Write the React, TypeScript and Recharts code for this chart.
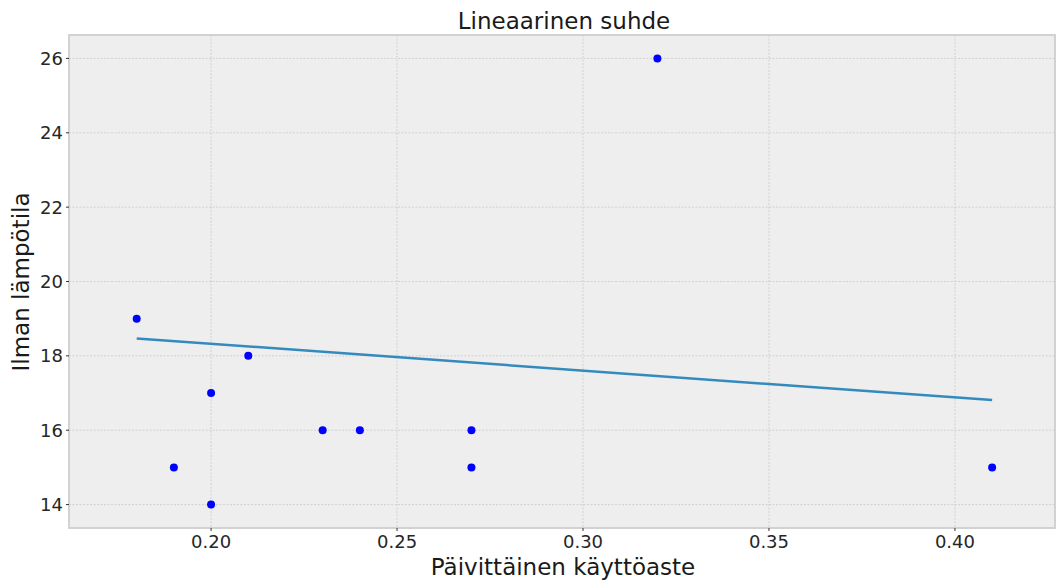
import React from 'react';
import { ScatterChart, Scatter, XAxis, YAxis, CartesianGrid, ReferenceArea, Label } from 'recharts';

// observed points
const usageRate = [0.18, 0.19, 0.2, 0.2, 0.21, 0.23, 0.24, 0.27, 0.27, 0.32, 0.41];
const airTemp = [19, 15, 17, 14, 18, 16, 16, 16, 15, 26, 15];

// fitted line end points
const fitX = [0.18, 0.41];
const fitY = [18.47, 16.81];

const xTicks = [0.2, 0.25, 0.3, 0.35, 0.4];
const yTicks = [14, 16, 18, 20, 22, 24, 26];

const X_DOMAIN: [number, number] = [0.1618, 0.4269];
const Y_DOMAIN: [number, number] = [13.37, 26.63];

const FONT = '"DejaVu Sans", sans-serif';

const points = usageRate.map((x, i) => ({ x, y: airTemp[i] }));
const fitLine = fitX.map((x, i) => ({ x, y: fitY[i] }));

const Dot = (p: any) => <circle cx={p.cx} cy={p.cy} r={4} fill="#0000ff" />;

const App: React.FC = () => {
  return (
    <div style={{ position: 'absolute', left: 0, top: 0, fontFamily: FONT }}>
      <ScatterChart width={1057} height={583} margin={{ top: 35, right: 2, bottom: 0, left: 0 }}>
        <CartesianGrid fill="#eeeeee" stroke="#c9c9c9" strokeWidth={0.8} strokeDasharray="2 1.5" />
        <XAxis
          type="number"
          dataKey="x"
          domain={X_DOMAIN}
          ticks={xTicks}
          allowDataOverflow
          height={55}
          axisLine={false}
          tickLine={{ stroke: '#333' }}
          tickSize={3}
          tickMargin={4}
          tickFormatter={(v: number) => v.toFixed(2)}
          tick={{ fill: '#262626', fontSize: 18, fontFamily: FONT }}
        >
          <Label
            content={() => (
              <text x={563} y={575} textAnchor="middle" fontSize={23} fill="#1a1a1a" fontFamily={FONT}>
                Päivittäinen käyttöaste
              </text>
            )}
          />
        </XAxis>
        <YAxis
          type="number"
          dataKey="y"
          domain={Y_DOMAIN}
          ticks={yTicks}
          allowDataOverflow
          width={69}
          axisLine={false}
          tickLine={{ stroke: '#333' }}
          tickSize={3}
          tickMargin={3}
          tick={{ fill: '#262626', fontSize: 18, fontFamily: FONT }}
        >
          <Label
            content={() => (
              <text
                x={29}
                y={282}
                textAnchor="middle"
                fontSize={23}
                fill="#1a1a1a"
                fontFamily={FONT}
                transform="rotate(-90, 29, 282)"
              >
                Ilman lämpötila
              </text>
            )}
          />
        </YAxis>
        <ReferenceArea
          x1={X_DOMAIN[0]}
          x2={X_DOMAIN[1]}
          y1={Y_DOMAIN[0]}
          y2={Y_DOMAIN[1]}
          fill="none"
          stroke="#d2d2d2"
          strokeWidth={2}
          ifOverflow="visible"
        />
        <Scatter
          data={fitLine}
          line={{ stroke: '#348ABD', strokeWidth: 2.5 }}
          shape={() => <g />}
          isAnimationActive={false}
        />
        <Scatter data={points} shape={Dot} isAnimationActive={false} />
        <text x={564} y={29} textAnchor="middle" fontSize={23} fill="#1a1a1a" fontFamily={FONT}>
          Lineaarinen suhde
        </text>
      </ScatterChart>
    </div>
  );
};

export default App;
